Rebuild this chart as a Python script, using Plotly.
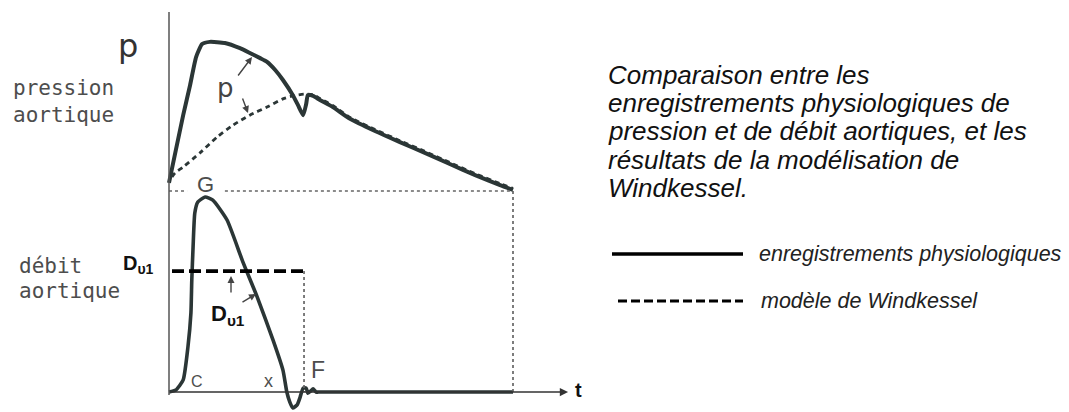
import plotly.graph_objects as go

W, H = 1069, 412

# ---------------- data (t in s, pressure in mmHg, flow in mL/s) ----------------
t_pression = [0.000, 0.016, 0.033, 0.049, 0.063, 0.077, 0.095, 0.130, 0.165, 0.188,
              0.212, 0.228, 0.247, 0.265, 0.288, 0.300, 0.312, 0.319, 0.323, 0.335,
              0.351, 0.381, 0.421, 0.479, 0.537, 0.595, 0.653, 0.712, 0.770, 0.800]
p_enregistree = [82.2, 91.1, 100.5, 108.6, 116.2, 119.7, 120.3, 120.0, 118.6, 117.3,
                 115.9, 114.9, 112.7, 110.0, 105.9, 103.2, 100.5, 103.5, 105.9, 105.7,
                 104.6, 102.7, 99.5, 96.2, 93.2, 90.3, 87.3, 84.3, 81.6, 80.3]

t_pression_modele = [0.007, 0.014, 0.033, 0.072, 0.112, 0.149, 0.188, 0.228, 0.265, 0.288,
                     0.314, 0.335, 0.351, 0.381, 0.421, 0.479, 0.537, 0.595, 0.653, 0.712,
                     0.770, 0.800]
p_modele = [83.8, 84.9, 86.5, 90.3, 94.6, 97.8, 100.5, 102.7, 104.9, 105.7,
            106.2, 106.0, 105.0, 103.1, 99.9, 96.6, 93.6, 90.7, 87.7, 84.7,
            82.0, 80.7]

t_debit = [0.000, 0.016, 0.033, 0.044, 0.051, 0.053, 0.056, 0.060, 0.067, 0.084,
           0.102, 0.135, 0.172, 0.205, 0.242, 0.265, 0.274, 0.281, 0.288, 0.298,
           0.305, 0.312, 0.319, 0.323, 0.330, 0.335, 0.342, 0.351, 0.800]
q_enregistre = [0, 5, 31, 115, 203, 287, 372, 459, 487, 500,
                492, 441, 333, 244, 133, 56, 0, -26, -41, -33,
                -13, 10, 10, -3, 3, 8, 0, 0, 0]

T_DEBUT_MODELE = 0.007
T_EJECTION = 0.314      # end of ejection (F)
T_CYCLE = 0.800         # end of the cardiac cycle
D_V1 = 310              # mean ejection flow of the model
P_DIASTOLE = 80         # pressure baseline
T_AXE_FIN = 0.928       # arrow tip of the time axis
GAP_G = (0.042, 0.130)  # break in the baseline around the "G" label

# ---------------- axis ranges (both y axes span the whole figure) ----------------
X_RANGE = [-0.39302, 2.09302]
Q_RANGE = [-51.28, 1005.1]
P_RANGE = [20.27, 131.62]


def p_vers_q(p):
    """Express a pressure value in flow-axis units (same screen height)."""
    f = (p - P_RANGE[0]) / (P_RANGE[1] - P_RANGE[0])
    return Q_RANGE[0] + f * (Q_RANGE[1] - Q_RANGE[0])


def px(x):
    return x / W


def py(y):
    return 1 - y / H


INK = "#2b3636"
GREY = "#4d4d4d"
DOT = dict(color="#666", width=1.7, dash="dot")

fig = go.Figure()

# pressure: recorded (solid) and Windkessel model (dashed)
fig.add_trace(go.Scatter(x=t_pression, y=p_enregistree, yaxis="y2", mode="lines",
                         line=dict(color=INK, width=4, shape="spline", smoothing=0.5),
                         hoverinfo="skip"))
fig.add_trace(go.Scatter(x=t_pression_modele, y=p_modele, yaxis="y2", mode="lines",
                         line=dict(color=INK, width=2.8, dash="5px,4px", shape="spline",
                                   smoothing=0.6),
                         hoverinfo="skip"))
# diastolic baseline (dotted, interrupted by the G label)
fig.add_trace(go.Scatter(x=[0, GAP_G[0], None, GAP_G[1], T_CYCLE],
                         y=[P_DIASTOLE, P_DIASTOLE, None, P_DIASTOLE, P_DIASTOLE],
                         yaxis="y2", mode="lines", line=DOT, hoverinfo="skip"))

# flow: recorded (solid)
fig.add_trace(go.Scatter(x=t_debit, y=q_enregistre, mode="lines",
                         line=dict(color=INK, width=3.6, shape="spline", smoothing=0.5),
                         hoverinfo="skip"))
# flow: model (dashed plateau then dotted drop)
fig.add_trace(go.Scatter(x=[T_DEBUT_MODELE, T_EJECTION], y=[D_V1, D_V1], mode="lines",
                         line=dict(color="#000", width=3.6, dash="12px,5px"),
                         hoverinfo="skip"))
fig.add_trace(go.Scatter(x=[T_EJECTION, T_EJECTION], y=[D_V1, 0], mode="lines",
                         line=DOT, hoverinfo="skip"))
# end-of-cycle guide
fig.add_trace(go.Scatter(x=[T_CYCLE, T_CYCLE], y=[p_vers_q(P_DIASTOLE), 0], mode="lines",
                         line=DOT, hoverinfo="skip"))

shapes = [
    # vertical axis
    dict(type="line", xref="x", yref="paper", x0=0, x1=0, y0=py(395), y1=py(12),
         line=dict(color="#555", width=1.5)),
    # legend samples
    dict(type="line", xref="paper", yref="paper", x0=px(612), x1=px(743),
         y0=py(254), y1=py(254), line=dict(color="#000", width=3.5)),
    dict(type="line", xref="paper", yref="paper", x0=px(618), x1=px(743),
         y0=py(301), y1=py(301), line=dict(color="#000", width=3, dash="9px,4px")),
]

annotations = []


def txt(x, y, text, size, color=GREY, family="Liberation Sans, Arial", xanchor="center",
        yanchor="middle"):
    annotations.append(dict(x=px(x), y=py(y), xref="paper", yref="paper", text=text,
                            showarrow=False, xanchor=xanchor, yanchor=yanchor,
                            font=dict(size=size, color=color, family=family)))


def arrow(x, y, ax, ay):
    annotations.append(dict(x=px(x), y=py(y), xref="paper", yref="paper", text="",
                            showarrow=True, ax=ax, ay=ay, arrowhead=2, arrowsize=1,
                            arrowwidth=1.4, arrowcolor="#444"))


MONO = "DejaVu Sans Mono, monospace"
txt(11, 88, "pression", 21, family=MONO, xanchor="left")
txt(11, 115, "aortique", 21, family=MONO, xanchor="left")
txt(17, 266, "débit", 21, family=MONO, xanchor="left")
txt(17, 291, "aortique", 21, family=MONO, xanchor="left")

txt(128, 46, "p", 32, color="#333", family="DejaVu Sans")
txt(225, 88, "p", 26, color="#444", family="DejaVu Sans")
arrow(252, 57, -15, 20)
arrow(248, 113, -6, -16)

txt(205, 184, "G", 22)
txt(197, 381, "C", 16)
txt(268, 381, "x", 18)
txt(318, 370, "F", 23)
txt(578, 390, "<b>t</b>", 20, color="#111")

txt(121, 264, "<b>D<sub>υ1</sub></b>", 20, color="#111", xanchor="left")
txt(209, 315, "<b>D<sub>υ1</sub></b>", 22, color="#111", xanchor="left")
arrow(231, 276, 0, 18)
arrow(256, 294, -15, 9)

# time axis with arrow
annotations.append(dict(x=T_AXE_FIN, y=0, xref="x", yref="y", ax=0, ay=0, axref="x",
                        ayref="y", text="", showarrow=True, arrowhead=2, arrowsize=1.1,
                        arrowwidth=1.5, arrowcolor="#333"))

# caption
LIB = "Liberation Sans, Arial, sans-serif"
lignes = ["Comparaison entre les",
          "enregistrements physiologiques de",
          "pression et de débit aortiques, et les",
          "résultats de la modélisation de",
          "Windkessel."]
for i, ligne in enumerate(lignes):
    txt(606, 75 + i * 28.2, f"<i>{ligne}</i>", 26, color="#111", family=LIB, xanchor="left")

txt(757, 254, "<i>enregistrements physiologiques</i>", 21.5, color="#222", family=LIB,
    xanchor="left")
txt(759, 301, "<i>modèle de Windkessel</i>", 21.5, color="#222", family=LIB, xanchor="left")

fig.update_layout(
    width=W, height=H,
    margin=dict(l=0, r=0, t=0, b=0),
    paper_bgcolor="white", plot_bgcolor="white",
    showlegend=False,
    xaxis=dict(range=X_RANGE, visible=False, fixedrange=True),
    yaxis=dict(range=Q_RANGE, visible=False, fixedrange=True),
    yaxis2=dict(range=P_RANGE, visible=False, overlaying="y", fixedrange=True),
    shapes=shapes,
    annotations=annotations,
)

fig.write_html("out.html", config={"displayModeBar": False})
